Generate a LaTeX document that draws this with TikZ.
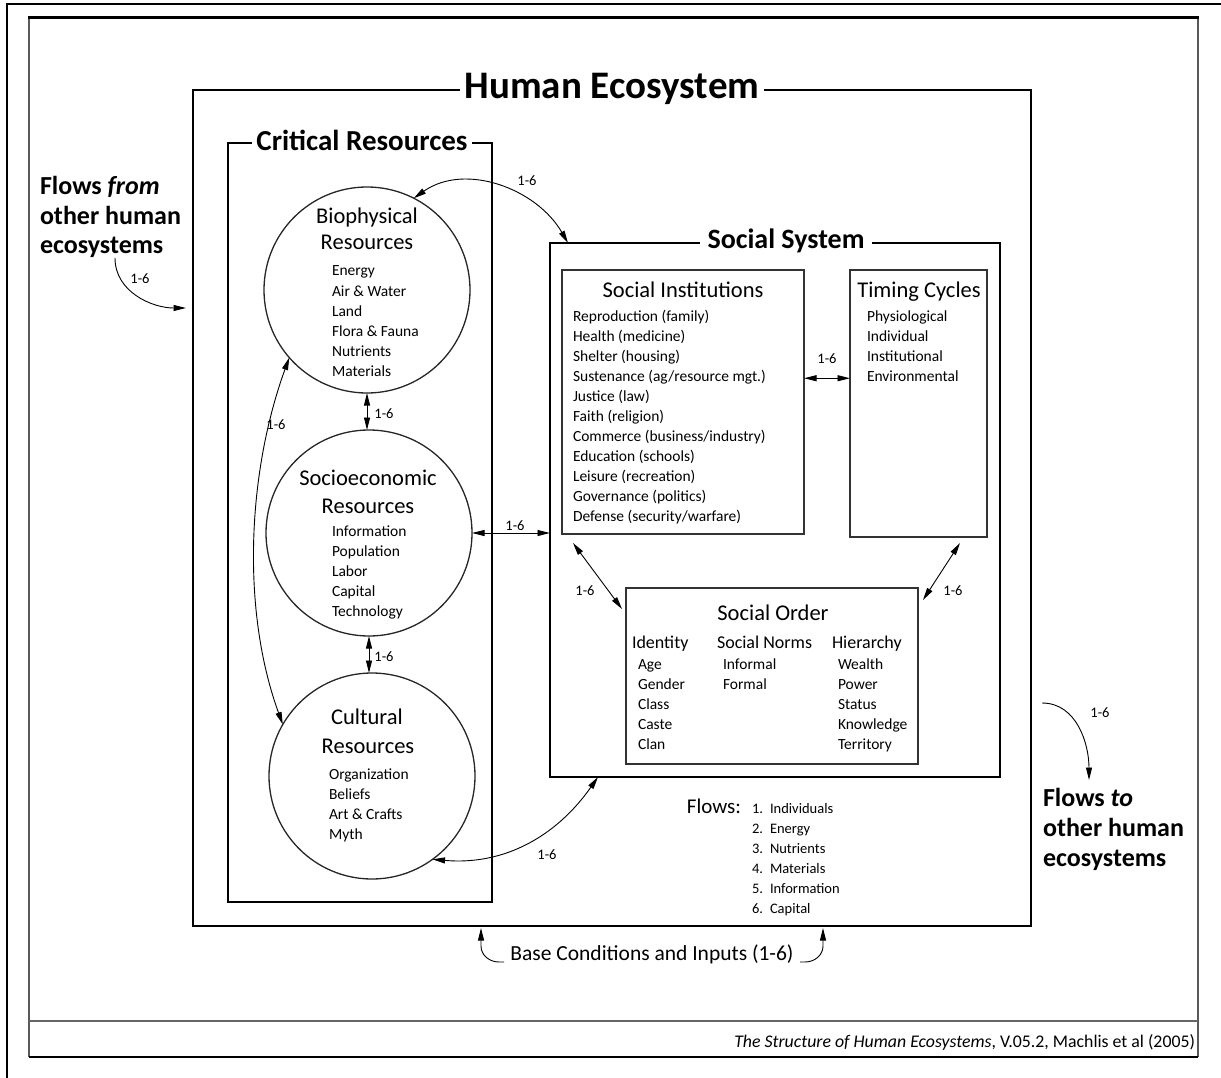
\documentclass[tikz,border=0pt]{standalone}
\usepackage{fontspec}
\setmainfont{Carlito}
\usetikzlibrary{arrows.meta,calc}

\begin{document}
\begin{tikzpicture}[x=1pt,y=-1pt,
  every node/.style={inner sep=0pt, outer sep=0pt},
  frame/.style={draw, anchor=north west, line width=2pt},
  inbox/.style={draw=black!80, anchor=north west, line width=1.3pt},
  res/.style={circle, draw=black!85, line width=1.3pt, minimum size=206pt},
  ttl/.style={font=\bfseries\fontsize{#1}{#1}\selectfont, fill=white, inner xsep=5pt, inner ysep=3pt, anchor=base},
  hd/.style={font=\fontsize{22.5}{26}\selectfont, anchor=base},
  sub/.style={font=\fontsize{18}{22}\selectfont, anchor=base west},
  itm/.style={font=\fontsize{15.5}{18}\selectfont, anchor=base west},
  lbl/.style={font=\fontsize{14.5}{16}\selectfont},
  big/.style={font=\bfseries\fontsize{26}{30}\selectfont, anchor=base west},
  tipx/.tip={Triangle[length=12.5pt,width=6pt]},
  link/.style={line width=0.9pt, tipx-tipx},
  oneway/.style={line width=0.9pt, -tipx},
]
\useasboundingbox (0,0) rectangle (1221,1078);
\fill[white] (0,0) rectangle (1221,1078);

% page frame
\draw[line width=1.5pt] (7,1078) -- (7,4) -- (1221,4);
\draw[line width=2pt, black!65] (29,18) -- (29,1057);
\draw[line width=2pt, black!65] (1198,18) -- (1198,1057);
\draw[line width=3pt] (28,18) -- (1199,18);
\draw[line width=2.5pt, black!60] (29,1021) -- (1198,1021);
\draw[line width=1.5pt] (29,1057) -- (1198,1057);

% main frames
\node[frame, line width=2.8pt, minimum width=838pt, minimum height=836pt] (he) at (193,90) {};
\node[ttl=39] (heT) at (612,99) {Human Ecosystem};

\node[frame, line width=2.2pt, minimum width=264pt, minimum height=759pt] (cr) at (228,143) {};
\node[ttl=29, inner xsep=4pt] (crT) at (362,151) {Critical Resources};

\node[frame, minimum width=450pt, minimum height=534pt] (ss) at (550,243) {};
\node[ttl=28, inner xsep=8pt] (ssT) at (786,248) {Social System};

% resource circles
\node[res] (bio) at (367,290) {};
\node[hd] (bioT1) at (367,224) {Biophysical};
\node[hd] (bioT2) at (367,250) {Resources};
\foreach \t [count=\i from 0] in {Energy, Air \& Water, Land, Flora \& Fauna, Nutrients, Materials}
  \node[itm] (bioI\i) at (332,276+20*\i) {\t};

\node[res] (soc) at (369,533) {};
\node[hd] (socT1) at (368,485) {Socioeconomic};
\node[hd] (socT2) at (368,513) {Resources};
\foreach \t [count=\i from 0] in {Information, Population, Labor, Capital, Technology}
  \node[itm] (socI\i) at (332,536+20*\i) {\t};

\node[res] (cul) at (372,776) {};
\node[hd] (culT1) at (367,724) {Cultural};
\node[hd] (culT2) at (368,753) {Resources};
\foreach \t [count=\i from 0] in {Organization, Beliefs, Art \& Crafts, Myth}
  \node[itm] (culI\i) at (329,779+20*\i) {\t};

% social system boxes
\node[inbox, minimum width=242pt, minimum height=264pt] (si) at (562,270) {};
\node[hd] (siT) at (683,298) {Social Institutions};
\foreach \t [count=\i from 0] in {Reproduction (family), Health (medicine), Shelter (housing),
  Sustenance (ag/resource mgt.), Justice (law), Faith (religion), Commerce (business/industry),
  Education (schools), Leisure (recreation), Governance (politics), Defense (security/warfare)}
  \node[itm] (siI\i) at (573,321+20*\i) {\t};

\node[inbox, minimum width=137pt, minimum height=267pt] (tc) at (850,270) {};
\node[hd] (tcT) at (919,298) {Timing Cycles};
\foreach \t [count=\i from 0] in {Physiological, Individual, Institutional, Environmental}
  \node[itm] (tcI\i) at (867,321+20*\i) {\t};

\node[inbox, minimum width=292pt, minimum height=176pt] (so) at (626,588) {};
\node[hd] (soT) at (773,620) {Social Order};
\node[sub] (soH1) at (632,648) {Identity};
\node[sub] (soH2) at (717,648) {Social Norms};
\node[sub] (soH3) at (832,648) {Hierarchy};
\foreach \t [count=\i from 0] in {Age, Gender, Class, Caste, Clan}
  \node[itm] (soA\i) at (638,669+20*\i) {\t};
\foreach \t [count=\i from 0] in {Informal, Formal}
  \node[itm] (soB\i) at (723,669+20*\i) {\t};
\foreach \t [count=\i from 0] in {Wealth, Power, Status, Knowledge, Territory}
  \node[itm] (soC\i) at (838,669+20*\i) {\t};

% flows between components
\coordinate (ssA) at (568,243);
\draw[link] (bio.63) to[out=35,in=120] (ssA);
\node[lbl] (l1) at (527,181) {1-6};

\draw[link] (bio.south) -- (bio.south |- soc.north);
\node[lbl] (l2) at (384,414) {1-6};
\draw[link] (soc.south) -- (soc.south |- cul.north);
\node[lbl] (l3) at (384,657) {1-6};

\draw[link] (bio.221) to[out=250,in=110,looseness=0.85] (cul.150);
\node[lbl] (l4) at (276,425) {1-6};

\draw[link] (soc.east) -- (soc.east -| ss.west);
\node[lbl] (l5) at (515,526) {1-6};

\coordinate (ssB) at (598,777);
\draw[link] (cul.-54) to[out=-5,in=235] (ssB);
\node[lbl] (l6) at (547,855) {1-6};

\coordinate (siR) at ($(si.north east)!0.41!(si.south east)$);
\draw[link] (siR) -- (siR -| tc.west);
\node[lbl] (l7) at (827,359) {1-6};

\coordinate (siB) at ($(si.south west)+(11,9)$);
\coordinate (soL) at ($(so.north west)+(-4,21)$);
\draw[link] (siB) -- (soL);
\node[lbl] (l8) at (585,591) {1-6};

\coordinate (tcB) at ($(tc.south west)+(110,6)$);
\coordinate (soR) at ($(so.north east)+(5,12)$);
\draw[link] (tcB) -- (soR);
\node[lbl] (l9) at (953,591) {1-6};

% flows in and out of the ecosystem
\node[big] (ff1) at (40,195) {Flows \textit{from}};
\node[big] (ff2) at (40,225) {other human};
\node[big] (ff3) at (40,254) {ecosystems};
\coordinate (ffA) at (115,258);
\coordinate (ffB) at (186,308);
\draw[oneway] (ffA) to[out=-90,in=180] (ffB);
\node[lbl] (l10) at (140,279) {1-6};

\node[big] (ft1) at (1043,806) {Flows \textit{to}};
\node[big] (ft2) at (1043,836) {other human};
\node[big] (ft3) at (1043,866) {ecosystems};
\coordinate (ftA) at (1042,703);
\coordinate (ftB) at (1089,780);
\draw[oneway] (ftA) to[out=0,in=90] (ftB);
\node[lbl] (l11) at (1100,713) {1-6};

% legend of flows
\node[font=\fontsize{21}{24}\selectfont, anchor=base east] (flw) at (741,813) {Flows:};
\foreach \t [count=\i] in {Individuals, Energy, Nutrients, Materials, Information, Capital} {
  \node[font=\fontsize{14.5}{17}\selectfont, anchor=base west] (fn\i) at (752,793+20*\i) {\i.};
  \node[font=\fontsize{14.5}{17}\selectfont, anchor=base west] (fl\i) at (770,793+20*\i) {\t};
}

% base conditions
\node[font=\fontsize{21.5}{24}\selectfont, anchor=base] (bc) at (652,960) {Base Conditions and Inputs (1-6)};
\coordinate (bcL) at (504,962);
\coordinate (bcR) at (800,962);
\coordinate (heL) at (481,928);
\coordinate (heR) at (823,928);
\draw[oneway] (bcL) -- ++(-5,0) to[out=180,in=-90] (heL |- 0,946) -- (heL);
\draw[oneway] (bcR) -- ++(5,0) to[out=0,in=-90] (heR |- 0,946) -- (heR);

% source line
\node[font=\fontsize{17.8}{20}\selectfont, anchor=base east] (src) at (1195,1047)
  {\textit{The Structure of Human Ecosystems}, V.05.2, Machlis et al (2005)};
\end{tikzpicture}
\end{document}
